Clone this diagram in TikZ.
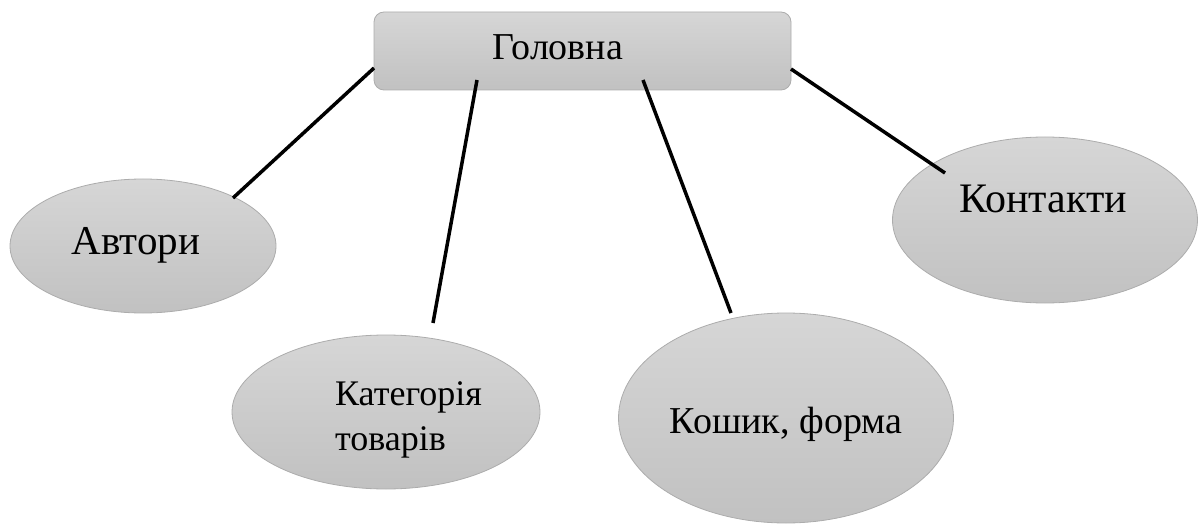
\documentclass[tikz,border=0pt]{standalone}
\usepackage{fontspec}
\setmainfont{Liberation Serif}
\newfontfamily\cyrserif{Liberation Serif}
\usetikzlibrary{shapes.geometric,positioning}

\definecolor{fillTop}{RGB}{214,214,214}
\definecolor{fillBot}{RGB}{193,193,193}
\definecolor{edgeGray}{RGB}{172,172,172}

\tikzset{
  pagebox/.style={draw=edgeGray, line width=0.8pt, top color=fillTop, bottom color=fillBot, inner sep=0pt},
  homebox/.style={pagebox, rectangle, rounded corners=10pt},
  oval/.style={pagebox, ellipse},
  lbl/.style={anchor=base, inner sep=0pt},
  link/.style={line width=3.5pt, black}
}

\begin{document}
\begin{tikzpicture}[x=1pt,y=-1pt]
\useasboundingbox (0,0) rectangle (1203,524);

\node[homebox, minimum width=417pt, minimum height=78pt] (home) at (582.5,51) {};
\node[oval, minimum width=266pt, minimum height=134pt] (avt) at (143,246) {};
\node[oval, minimum width=308pt, minimum height=154pt] (kat) at (386,412) {};
\node[oval, minimum width=335pt, minimum height=210pt] (kosh) at (786,418) {};
\node[oval, minimum width=305pt, minimum height=166pt] (kont) at (1045,220) {};

    \node[lbl, font=\cyrserif\fontsize{38}{44}\selectfont] (homeT) at (558,60) {Головна};
    \node[lbl, font=\cyrserif\fontsize{41}{48}\selectfont] (avtT) at (136,254) {Автори};
    \node[lbl, anchor=base west, align=left, font=\cyrserif\fontsize{36}{45}\selectfont] (katT) at (335,450) {Категорія\\товарів};
    \node[lbl, font=\cyrserif\fontsize{38}{44}\selectfont] (koshT) at (786,433) {Кошик, форма};
    \node[lbl, font=\cyrserif\fontsize{42}{48}\selectfont] (kontT) at (1043,212) {Контакти};

% connector ends
\coordinate (h1) at (374,68);
\coordinate (h2) at (477,80);
\coordinate (h3) at (643,80);
\coordinate (h4) at (791,69);
\coordinate (a1) at (233,198);
\coordinate (k1) at (433,323);
\coordinate (s1) at (731,313);
\coordinate (c1) at (945,173);

\draw[link] (h1) -- (a1);
\draw[link] (h2) -- (k1);
\draw[link] (h3) -- (s1);
\draw[link] (h4) -- (c1);
\end{tikzpicture}
\end{document}
